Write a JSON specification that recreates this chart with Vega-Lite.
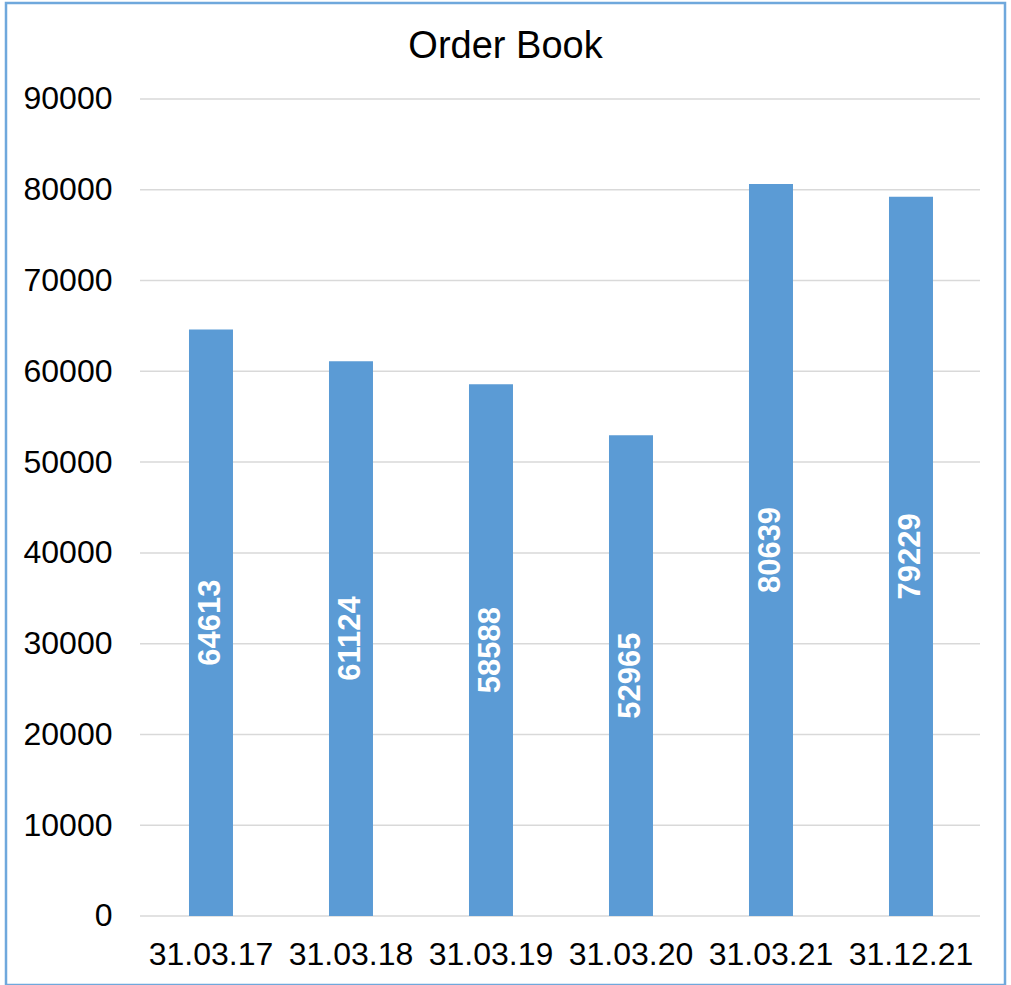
{
  "$schema": "https://vega.github.io/schema/vega-lite/v6.json",
  "width": 999,
  "height": 982,
  "autosize": "none",
  "padding": {"left": 6, "top": 3, "right": 6, "bottom": 0},
  "background": "white",
  "config": {
    "view": {"stroke": "#6FA8DC", "strokeWidth": 2.5},
    "font": "Liberation Sans"
  },
  "title": {
    "text": "Order Book",
    "fontSize": 38,
    "fontWeight": "normal",
    "color": "black",
    "font": "Liberation Sans",
    "offset": -55,
    "dy": 38,
    "baseline": "alphabetic",
    "anchor": "middle",
    "frame": "group"
  },
  "layer": [
    {
      "data": {"values": [
        {"g": 0}, {"g": 10000}, {"g": 20000}, {"g": 30000}, {"g": 40000},
        {"g": 50000}, {"g": 60000}, {"g": 70000}, {"g": 80000}, {"g": 90000}
      ]},
      "mark": {"type": "rule", "color": "#D9D9D9", "strokeWidth": 1.5},
      "encoding": {
        "y": {
          "field": "g", "type": "quantitative",
          "scale": {"domain": [-7601, 100575], "nice": false, "zero": false},
          "axis": {
            "orient": "left", "offset": -134,
            "values": [0, 10000, 20000, 30000, 40000, 50000, 60000, 70000, 80000, 90000],
            "format": "d",
            "labelFontSize": 32, "labelColor": "black", "labelFont": "Liberation Sans",
            "labelPadding": 28, "ticks": false, "domain": false, "grid": false, "title": null
          }
        },
        "x": {"datum": 0, "type": "quantitative", "scale": {"domain": [-0.15952, 1.02976], "nice": false, "zero": false}, "axis": null},
        "x2": {"datum": 1}
      }
    },
    {
      "data": {"name": "orders", "values": [
        {"date": "31.03.17", "value": 64613},
        {"date": "31.03.18", "value": 61124},
        {"date": "31.03.19", "value": 58588},
        {"date": "31.03.20", "value": 52965},
        {"date": "31.03.21", "value": 80639},
        {"date": "31.12.21", "value": 79229}
      ]},
      "layer": [
        {
          "mark": {"type": "bar", "color": "#5B9BD5"},
          "encoding": {
            "x": {
              "field": "date", "type": "nominal", "sort": null,
              "scale": {"paddingInner": 0.6857, "paddingOuter": 0.9107, "align": 0.7176, "round": false},
              "axis": {
                "orient": "bottom", "offset": -68.5, "labelAngle": 0,
                "labelFontSize": 32, "labelColor": "black", "labelFont": "Liberation Sans",
                "labelPadding": 23, "ticks": false, "domain": false, "grid": false, "title": null,
                "labelOverlap": false
              }
            },
            "y": {
              "field": "value", "type": "quantitative",
              "scale": {"domain": [-7601, 100575], "nice": false, "zero": false},
              "axis": null
            },
            "y2": {"datum": 0}
          }
        },
        {
          "mark": {"type": "text", "angle": 270, "align": "center", "baseline": "middle", "color": "white", "fontWeight": "bold", "fontSize": 31, "font": "Liberation Sans"},
          "encoding": {
            "x": {
              "field": "date", "type": "nominal", "sort": null,
              "scale": {"paddingInner": 0.6857, "paddingOuter": 0.9107, "align": 0.7176, "round": false},
              "axis": {
                "orient": "bottom", "offset": -68.5, "labelAngle": 0,
                "labelFontSize": 32, "labelColor": "black", "labelFont": "Liberation Sans",
                "labelPadding": 23, "ticks": false, "domain": false, "grid": false, "title": null,
                "labelOverlap": false
              }
            },
            "y": {
              "field": "value", "type": "quantitative",
              "scale": {"domain": [-15202, 201150], "nice": false, "zero": false},
              "axis": null
            },
            "text": {"field": "value", "type": "quantitative", "format": "d"}
          }
        }
      ],
      "resolve": {"scale": {"y": "independent"}}
    }
  ],
  "resolve": {"scale": {"x": "independent", "y": "independent"}}
}
